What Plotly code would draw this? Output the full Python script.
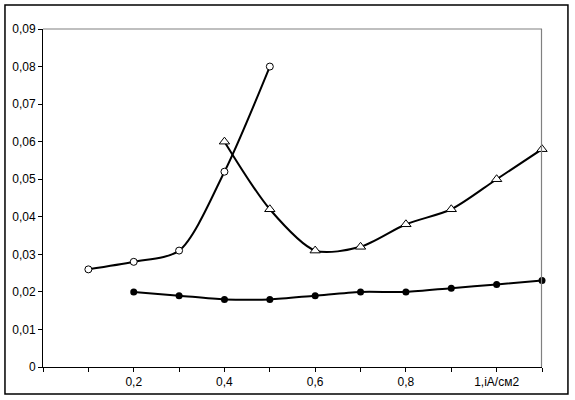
import plotly.graph_objects as go

# current density, A/cm2
x_open = [0.1, 0.2, 0.3, 0.4, 0.5]
y_open = [0.026, 0.028, 0.031, 0.052, 0.080]

x_tri = [0.4, 0.5, 0.6, 0.7, 0.8, 0.9, 1.0, 1.1]
y_tri = [0.060, 0.042, 0.031, 0.032, 0.038, 0.042, 0.050, 0.058]

x_fill = [0.2, 0.3, 0.4, 0.5, 0.6, 0.7, 0.8, 0.9, 1.0, 1.1]
y_fill = [0.020, 0.019, 0.018, 0.018, 0.019, 0.020, 0.020, 0.021, 0.022, 0.023]

x_ticks = [0, 0.1, 0.2, 0.3, 0.4, 0.5, 0.6, 0.7, 0.8, 0.9, 1.0, 1.1]
x_labels = ["", "", "0,2", "", "0,4", "", "0,6", "", "0,8", "", "1,iA/см2", ""]
y_ticks = [0, 0.01, 0.02, 0.03, 0.04, 0.05, 0.06, 0.07, 0.08, 0.09]
y_labels = ["0", "0,01", "0,02", "0,03", "0,04", "0,05", "0,06", "0,07", "0,08", "0,09"]

line = dict(color="black", width=2, shape="spline", smoothing=0.8)

fig = go.Figure()
fig.add_trace(go.Scatter(
    x=x_open, y=y_open, mode="lines+markers", line=line, cliponaxis=False,
    marker=dict(symbol="circle", size=7, color="white", line=dict(color="black", width=1)),
))
fig.add_trace(go.Scatter(
    x=x_tri, y=y_tri, mode="lines+markers", line=line, cliponaxis=False,
    marker=dict(symbol="triangle-up", size=9, color="white", line=dict(color="black", width=1)),
))
fig.add_trace(go.Scatter(
    x=x_fill, y=y_fill, mode="lines+markers", line=line, cliponaxis=False,
    marker=dict(symbol="circle", size=7, color="black"),
))

axis_font = dict(family="Liberation Sans, Arial", size=12, color="black")

fig.update_layout(
    width=575, height=400,
    margin=dict(l=43, r=33, t=29, b=33),
    paper_bgcolor="white", plot_bgcolor="white",
    showlegend=False,
    xaxis=dict(
        range=[0, 1.1], tickvals=x_ticks, ticktext=x_labels, automargin=False,
        showgrid=False, zeroline=False, showline=True, linecolor="black", linewidth=1,
        ticks="outside", ticklen=4, tickcolor="black", tickfont=axis_font,
    ),
    yaxis=dict(
        range=[0, 0.09], tickvals=y_ticks, ticktext=y_labels, automargin=False,
        showgrid=False, zeroline=False, showline=True, linecolor="black", linewidth=1,
        ticks="outside", ticklen=4, tickcolor="black", tickfont=axis_font,
    ),
    shapes=[
        # gray plot-area border on top and right
        dict(type="line", xref="paper", yref="paper", x0=0, x1=1, y0=1, y1=1,
             line=dict(color="#808080", width=1.2), layer="above"),
        dict(type="line", xref="paper", yref="paper", x0=0.999, x1=0.999, y0=0, y1=1,
             line=dict(color="#808080", width=1.2), layer="above"),
        # outer chart border
        dict(type="rect", xref="paper", yref="paper",
             x0=-0.0762, x1=1.052, y0=-0.0799, y1=1.071,
             line=dict(color="black", width=1.5)),
    ],
)

# drop the default page margin so the figure sits at the window corner
fig.write_html("out.html", config={"displayModeBar": False},
               post_script="document.body.style.margin = '0';")
